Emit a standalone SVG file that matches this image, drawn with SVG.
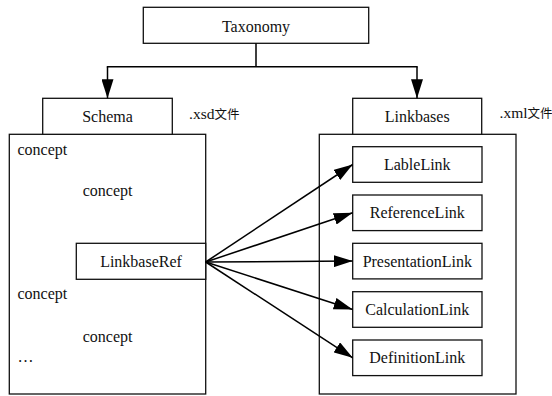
<svg xmlns="http://www.w3.org/2000/svg" width="552" height="396" viewBox="0 0 552 396">
<defs>
<style>
.box{fill:#fff;stroke:#111;stroke-width:1.3}
text{font-family:'Liberation Serif','Times New Roman',serif;fill:#111}
.t{font-size:16px}
.c{text-anchor:middle}
.cjk{font-family:'Liberation Serif','Noto Sans CJK SC',serif}
.cn{stroke:#000;stroke-width:1.5;fill:none}
</style>
<marker id="ah" viewBox="0 0 19 12" refX="19" refY="6" markerWidth="19" markerHeight="12" markerUnits="userSpaceOnUse" orient="auto">
<path d="M0,0 L19,6 L0,12 z" fill="#000"/>
</marker>
</defs>
<rect width="552" height="396" fill="#fff"/>
<g id="taxonomy">
<rect class="box" x="143.3" y="7.3" width="225.4" height="36"/>
<text class="t c" x="256" y="31.5">Taxonomy</text>
</g>
<g id="schema-container">
<rect class="box" x="9.3" y="134.3" width="196.4" height="259.7"/>
<text class="t" x="17.5" y="155">concept</text>
<text class="t" x="82.7" y="196">concept</text>
<text class="t" x="17.5" y="299">concept</text>
<text class="t" x="82.7" y="341.7">concept</text>
<text class="t" x="17.5" y="362">…</text>
</g>
<g id="schema">
<rect class="box" x="42.7" y="98.3" width="129.6" height="36"/>
<text class="t c" x="107.5" y="122.3">Schema</text>
</g>
<g id="xsd-label">
<text class="cjk" x="189" y="118.5"><tspan font-size="15.5">.xsd</tspan><tspan font-size="12.5">文件</tspan></text>
</g>
<g id="linkbaseref">
<rect class="box" x="76.3" y="243.3" width="129.4" height="36"/>
<text class="t c" x="141" y="267">LinkbaseRef</text>
</g>
<g id="linkbases-container">
<rect class="box" x="319.3" y="134.3" width="196.7" height="259.7"/>
</g>
<g id="linkbases">
<rect class="box" x="352.7" y="98.3" width="129" height="36"/>
<text class="t c" x="417.2" y="122">Linkbases</text>
</g>
<g id="xml-label">
<text class="cjk" x="499.5" y="117.5"><tspan font-size="15.5">.xml</tspan><tspan font-size="12.5">文件</tspan></text>
</g>
<g id="lablelink">
<rect class="box" x="352.7" y="146.7" width="129.3" height="35.6"/>
<text class="t c" x="417.3" y="170">LableLink</text>
</g>
<g id="referencelink">
<rect class="box" x="352.7" y="195" width="129.3" height="35.6"/>
<text class="t c" x="417.3" y="218.3">ReferenceLink</text>
</g>
<g id="presentationlink">
<rect class="box" x="352.7" y="243.3" width="129.3" height="35.6"/>
<text class="t c" x="417.3" y="266.6">PresentationLink</text>
</g>
<g id="calculationlink">
<rect class="box" x="352.7" y="291.7" width="129.3" height="35.6"/>
<text class="t c" x="417.3" y="315">CalculationLink</text>
</g>
<g id="definitionlink">
<rect class="box" x="352.7" y="340" width="129.3" height="35.6"/>
<text class="t c" x="417.3" y="363.3">DefinitionLink</text>
</g>
<g id="connectors">
<path class="cn" d="M256,43.3 V66.7 M106.8,66.7 H417.7"/>
<path class="cn" d="M107.5,66.7 V98.3" marker-end="url(#ah)"/>
<path class="cn" d="M417,66.7 V98.3" marker-end="url(#ah)"/>
<path class="cn" d="M205.7,262 L352.7,164.5" marker-end="url(#ah)"/>
<path class="cn" d="M205.7,262 L352.7,212.8" marker-end="url(#ah)"/>
<path class="cn" d="M205.7,262 L352.7,261.1" marker-end="url(#ah)"/>
<path class="cn" d="M205.7,262 L352.7,309.5" marker-end="url(#ah)"/>
<path class="cn" d="M205.7,262 L352.7,357.8" marker-end="url(#ah)"/>
</g>
</svg>
